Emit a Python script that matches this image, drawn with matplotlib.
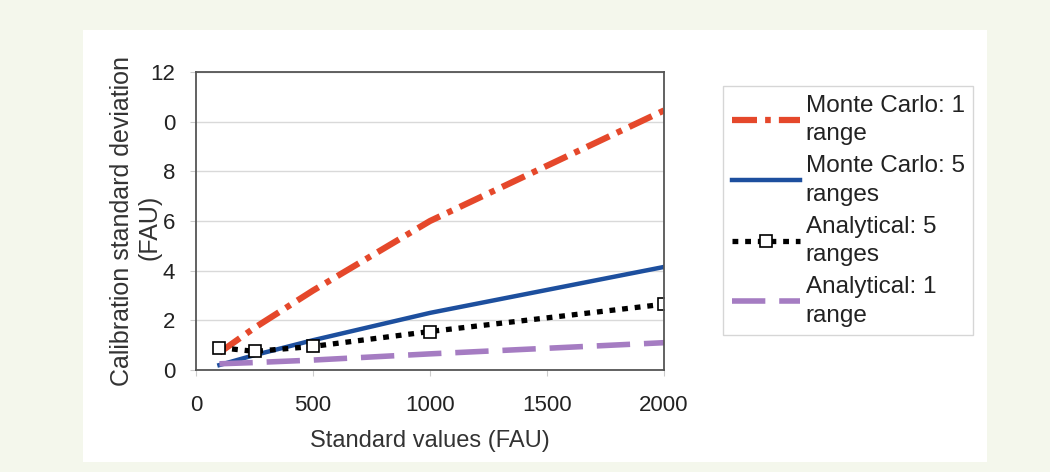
import matplotlib.pyplot as plt
from matplotlib.patches import Rectangle

# standard values (FAU)
std_values = [100, 250, 500, 1000, 2000]

mc_1_range = [0.7, 1.7, 3.2, 6.0, 10.45]
mc_5_ranges = [0.2, 0.6, 1.2, 2.3, 4.15]
an_5_ranges = [0.9, 0.75, 0.95, 1.55, 2.65]
an_1_range = [0.25, 0.3, 0.4, 0.65, 1.1]

y_ticks = [0, 2, 4, 6, 8, 10, 12]
y_tick_labels = ["0", "2", "4", "6", "8", "0", "12"]
x_ticks = [0, 500, 1000, 1500, 2000]

labels = ["Monte Carlo: 1\nrange", "Monte Carlo: 5\nranges",
          "Analytical: 5\nranges", "Analytical: 1\nrange"]

plt.rcParams['font.family'] = ['Liberation Sans', 'DejaVu Sans']

fig = plt.figure(figsize=(10.5, 4.72), dpi=100, facecolor="#f4f7ec")
panel = Rectangle((83 / 1050, 10 / 472), 904 / 1050, 432 / 472,
                  transform=fig.transFigure, facecolor="white",
                  edgecolor="none", zorder=-10)
fig.add_artist(panel)

ax = fig.add_axes([0.1867, 0.2161, 0.4457, 0.6314])
ax.set_facecolor("white")

l1, = ax.plot(std_values, mc_1_range, color="#e5482b", lw=4.5,
              linestyle=(0, (4, 1.3, 0.9, 1.3)))
l2, = ax.plot(std_values, mc_5_ranges, color="#1d4f9e", lw=3.2)
l3, = ax.plot(std_values, an_5_ranges, color="black", lw=3.8,
              linestyle=(0, (1.1, 1.3)), marker="s", markersize=9,
              markerfacecolor="white", markeredgecolor="black",
              markeredgewidth=1.2)
l4, = ax.plot(std_values, an_1_range, color="#a57cc2", lw=4,
              linestyle=(0, (6, 2.5)))

ax.set_xlim(0, 2000)
ax.set_ylim(0, 12)
ax.set_xticks(x_ticks)
ax.set_yticks(y_ticks)
ax.set_yticklabels(y_tick_labels)
ax.tick_params(length=4, color="#cccccc", labelsize=16, labelcolor="#222222")
ax.tick_params(axis="y", pad=11)
ax.tick_params(axis="x", pad=14)
ax.grid(axis="y", color="#d9d9d9", lw=1)
ax.set_axisbelow(True)
for s in ax.spines.values():
    s.set_color("#555555")
    s.set_linewidth(1.3)

ax.set_xlabel("Standard values (FAU)", fontsize=17, color="#333333", labelpad=10)
# y label in two lines, second line kept separate so it sits close to the ticks
ax.set_ylabel("Calibration standard deviation", fontsize=18, color="#333333")
ax.yaxis.set_label_coords(-0.133, 0.5)
ax.text(-0.074, 0.48, "(FAU)", transform=ax.transAxes, rotation=90,
        fontsize=18, color="#333333", ha="right", va="center")

leg = fig.legend([l1, l2, l3, l4], labels, loc="upper left",
                 bbox_to_anchor=(723 / 1050, 1 - 86 / 472), fontsize=17.5,
                 frameon=True, fancybox=False, edgecolor="#cccccc",
                 handlelength=2.8, handletextpad=0.25, labelspacing=0.4,
                 borderpad=0.35, borderaxespad=0, markerscale=1.0)
leg.get_frame().set_linewidth(1)
for t in leg.get_texts():
    t.set_color("#222222")
    t.set_linespacing(1.4)

fig.savefig("out.png", dpi=100, facecolor=fig.get_facecolor())
